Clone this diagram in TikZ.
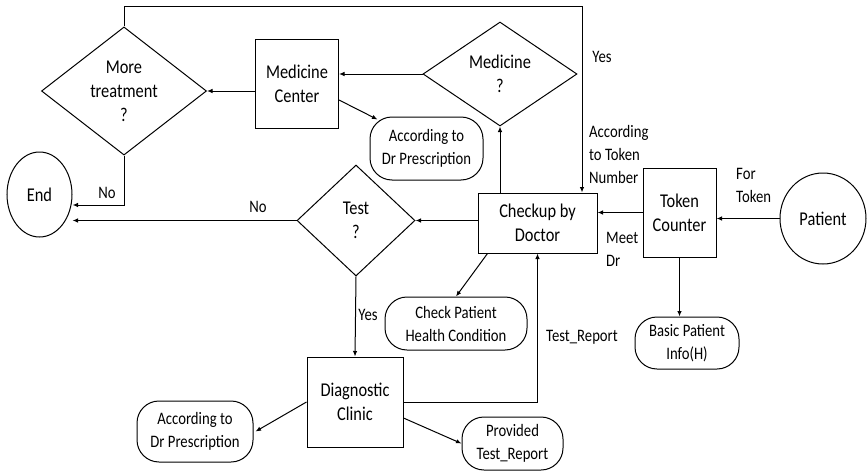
\documentclass[tikz,border=0pt]{standalone}
\usepackage{fontspec}
\setmainfont{Carlito}[FakeStretch=0.84]
\usetikzlibrary{shapes.geometric,arrows.meta}
\tikzset{
  big/.style={font=\fontsize{19.5}{24}\selectfont, align=center, inner sep=0pt},
  small/.style={font=\fontsize{17.5}{23}\selectfont, align=center, inner sep=0pt},
  proc/.style={big, draw, line width=1pt, rectangle},
  dec/.style={big, draw, line width=1pt, diamond},
  oval/.style={big, draw, line width=1pt, ellipse},
  rbox/.style={small, draw, line width=1pt, rectangle, rounded corners=22pt},
  lbl/.style={small},
  arr/.style={line width=1pt, -{Latex[length=5.5pt,width=4.5pt]}}
}
\begin{document}
\begin{tikzpicture}[x=1pt,y=-1pt]
\useasboundingbox (0,0) rectangle (868,471);
% nodes
\node[dec, minimum width=165pt, minimum height=127pt] (mt) at (124,91) {More\\treatment\\?};
\node[proc, minimum width=83pt, minimum height=89pt] (mc) at (297,84) {Medicine\\Center};
\node[dec, minimum width=154pt, minimum height=104pt] (med) at (500,74) {Medicine\\?};
\node[rbox, minimum width=113pt, minimum height=63pt] (adp1) at (426.5,148.5) {According to\\Dr Prescription};
\node[proc, minimum width=119pt, minimum height=60pt] (doc) at (537.5,223) {Checkup by\\Doctor};
\node[proc, minimum width=73pt, minimum height=89pt] (tok) at (679.5,212.5) {Token\\Counter};
\node[oval, minimum width=86pt, minimum height=91pt] (pat) at (823,218.5) {Patient};
\node[rbox, minimum width=104pt, minimum height=52pt] (info) at (687,343) {Basic Patient\\Info(H)};
\node[rbox, minimum width=142pt, minimum height=53pt] (chk) at (456,323.5) {Check Patient\\Health Condition};
\node[dec, minimum width=118pt, minimum height=111pt] (test) at (356,220.5) {Test\\?};
\node[oval, minimum width=65pt, minimum height=85pt] (end) at (39.5,194.5) {End};
\node[proc, minimum width=96pt, minimum height=90pt] (diag) at (355,402) {Diagnostic\\Clinic};
\node[rbox, minimum width=116pt, minimum height=61pt] (adp2) at (195,431.5) {According to\\Dr Prescription};
\node[rbox, minimum width=101pt, minimum height=53pt] (prov) at (512.5,443.5) {Provided\\Test\_Report};
% labels
\node[lbl] (lyes1) at (602,57) {Yes};
\node[lbl, align=left, anchor=west] (lacc) at (589,154) {According\\to Token\\Number};
\node[lbl, align=left, anchor=west] (lfor) at (736,185.5) {For\\Token};
\node[lbl, align=left, anchor=west] (lmeet) at (606,249.5) {Meet\\Dr};
\node[lbl] (ltr) at (582,337) {Test\_Report};
\node[lbl] (lyes2) at (368,315) {Yes};
\node[lbl] (lno1) at (258,207) {No};
\node[lbl] (lno2) at (107,193) {No};
% connectors
\coordinate (tr) at (582,6);
\draw[arr] (mt.north) |- (tr) -- (tr |- doc.north);
\draw[arr] (med.west) -- (mc.east |- med.west);
\draw[arr] (mc.west |- mt.east) -- (mt.east);
\draw[arr] ([yshift=-16pt]mc.east) -- ([xshift=8pt,yshift=-3pt]adp1.north west);
\draw[arr] (med.south |- doc.north) -- (med.south);
\draw[arr] (tok.west) -- (doc.east |- tok.west);
\draw[arr] (pat.west) -- (tok.east |- pat.west);
\draw[arr] (tok.south) -- (tok.south |- info.north);
\draw[arr] ([xshift=10pt]doc.south west) -- (chk.north);
\draw[arr] (doc.west |- test.east) -- (test.east);
\draw[arr] (test.west) -- (end.east |- test.west);
\draw[arr] (mt.south) |- ([yshift=-10.5pt]end.east);
\draw[arr] (test.south) -- (diag.north);
\draw[arr] (diag.west) -- ([xshift=2pt]adp2.east);
\draw[arr] (diag.east) -| (doc.south);
\draw[arr] ([yshift=-16pt]diag.east) -- (prov.west);
\end{tikzpicture}
\end{document}
